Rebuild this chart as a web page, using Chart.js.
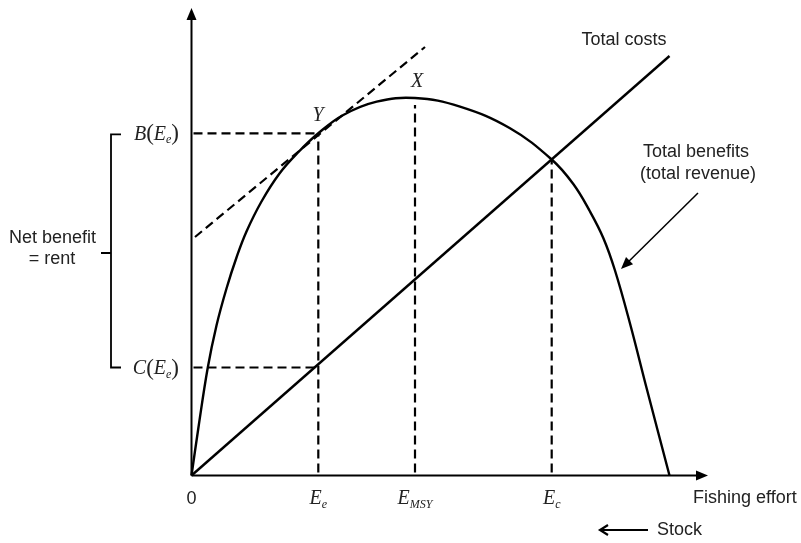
<!DOCTYPE html>
<html>
<head>
<meta charset="utf-8">
<script src="https://cdn.jsdelivr.net/npm/chart.js@4"></script>
<style>
    html, body { margin: 0; padding: 0; background: #fff; }
    canvas { display: block; }
</style>
</head>
<body>
<canvas id="fishChart" width="801" height="543"></canvas>
<script>
// Total benefits (revenue) curve
const effort = [0, 6.8, 16.2, 25, 35, 45, 55, 70, 88, 107, 126.8, 151.8, 185.2, 223.5, 268.5, 318.5, 360.2, 381.8, 398.5, 411.8, 423.5, 438.5, 455.2, 478];
const benefits = [0, 47, 107.5, 150, 187, 218, 244, 274, 302, 323.5, 342.2, 360.5, 373.8, 377.5, 368.8, 347.2, 316, 291.5, 264, 237.5, 205, 152, 87, 0];

// Total costs line
const costEffort = [0, 478];
const costValues = [0, 419.5];

// Tangent at Y (parallel to costs)
const tangentEffort = [3.5, 233.5];
const tangentValues = [238.5, 428.5];

// Marked effort levels on the x axis
const markEffort = [126.8, 223.5, 360.2];
const markTops = [342.2, 370.5, 316];
const markSubs = ['e', 'MSY', 'c'];

// Marked levels on the y axis: B(Ee), C(Ee)
const levelValues = [342.2, 108];
const levelNames = ['B', 'C'];

const xMax = 516.5;
const yMax = 467.5;
const ink = '#000';
const textInk = '#222';

function toPoints(xs, ys) {
    return xs.map((x, i) => ({ x: x, y: ys[i] }));
}

function lineSet(points, dashed) {
    return {
        data: points,
        showLine: true,
        borderColor: ink,
        borderWidth: dashed ? 2.2 : 2.4,
        borderDash: dashed ? [9, 5] : [],
        pointRadius: 0,
        fill: false,
        clip: false
    };
}

function buildDatasets() {
    const sets = [];
    const curve = lineSet(toPoints(effort, benefits), false);
    curve.tension = 0.4;
    sets.push(curve);
    sets.push(lineSet(toPoints(costEffort, costValues), false));
    sets.push(lineSet(toPoints(tangentEffort, tangentValues), true));
    markEffort.forEach((e, i) => {
        sets.push(lineSet([{ x: e, y: 3 }, { x: e, y: markTops[i] }], true));
    });
    levelValues.forEach(v => {
        sets.push(lineSet([{ x: 2, y: v }, { x: markEffort[0], y: v }], true));
    });
    return sets;
}

function arrowHead(ctx, x, y, angle, len, half) {
    ctx.save();
    ctx.translate(x, y);
    ctx.rotate(angle);
    ctx.beginPath();
    ctx.moveTo(0, 0);
    ctx.lineTo(-len, -half);
    ctx.lineTo(-len, half);
    ctx.closePath();
    ctx.fill();
    ctx.restore();
}

// draws pieces like [['E','i'],['e','s']] : i = italic, n = upright, s = subscript
function drawPieces(ctx, pieces, x, y, align) {
    const fonts = {
        i: 'italic 20px "Liberation Serif"',
        n: '23px "Liberation Serif"',
        s: 'italic 12px "Liberation Serif"'
    };
    let total = 0;
    const widths = pieces.map(p => {
        ctx.font = fonts[p[1]];
        const w = ctx.measureText(p[0]).width;
        total += w;
        return w;
    });
    let cx = x;
    if (align === 'center') cx = x - total / 2;
    if (align === 'right') cx = x - total;
    ctx.textAlign = 'left';
    ctx.textBaseline = 'middle';
    pieces.forEach((p, i) => {
        ctx.font = fonts[p[1]];
        ctx.fillText(p[0], cx, p[1] === 's' ? y + 6 : y);
        cx += widths[i];
    });
}

const decorations = {
    id: 'decorations',
    afterDraw(chart) {
        const ctx = chart.ctx;
        const xs = chart.scales.x;
        const ys = chart.scales.y;
        const px = v => xs.getPixelForValue(v);
        const py = v => ys.getPixelForValue(v);
        const area = chart.chartArea;

        ctx.save();
        ctx.strokeStyle = ink;
        ctx.fillStyle = ink;
        ctx.lineWidth = 2;

        // axes with arrows
        ctx.beginPath();
        ctx.moveTo(area.left, area.bottom);
        ctx.lineTo(area.right - 8, area.bottom);
        ctx.moveTo(area.left, area.bottom);
        ctx.lineTo(area.left, area.top + 8);
        ctx.stroke();
        arrowHead(ctx, area.right, area.bottom, 0, 12, 5);
        arrowHead(ctx, area.left, area.top, -Math.PI / 2, 12, 5);

        // brace for net benefit
        const bx = px(-80.5);
        ctx.lineWidth = 1.8;
        ctx.beginPath();
        ctx.moveTo(px(-70.5), py(levelValues[0]) + 1);
        ctx.lineTo(bx, py(levelValues[0]) + 1);
        ctx.lineTo(bx, py(levelValues[1]));
        ctx.lineTo(px(-70.5), py(levelValues[1]));
        ctx.moveTo(bx, py(222.5));
        ctx.lineTo(px(-90.5), py(222.5));
        ctx.stroke();

        // pointer to the benefits curve
        const ax0 = px(506.5), ay0 = py(282.5);
        const ax1 = px(429.5), ay1 = py(206.5);
        const ang = Math.atan2(ay1 - ay0, ax1 - ax0);
        ctx.lineWidth = 1.5;
        ctx.beginPath();
        ctx.moveTo(ax0, ay0);
        ctx.lineTo(ax1 - 9 * Math.cos(ang), ay1 - 9 * Math.sin(ang));
        ctx.stroke();
        arrowHead(ctx, ax1, ay1, ang, 12, 5);

        // stock arrow
        const sy = py(-54.5);
        ctx.lineWidth = 2.2;
        ctx.beginPath();
        ctx.moveTo(px(456.5), sy);
        ctx.lineTo(px(408.5), sy);
        ctx.moveTo(px(408.5) + 8, sy - 5);
        ctx.lineTo(px(408.5), sy);
        ctx.lineTo(px(408.5) + 8, sy + 5);
        ctx.stroke();

        // texts
        ctx.fillStyle = textInk;
        ctx.font = '18px "Liberation Sans"';
        ctx.textBaseline = 'middle';
        ctx.textAlign = 'center';
        ctx.fillText('0', px(0), py(-23.5));
        ctx.fillText('Total costs', px(432.5), py(435.5));
        ctx.fillText('Total benefits', px(504.5), py(323.5));
        ctx.fillText('(total revenue)', px(506.5), py(301.5));
        ctx.fillText('Net benefit', px(-139), py(237.5));
        ctx.fillText('= rent', px(-139.5), py(216.5));
        ctx.textAlign = 'left';
        ctx.fillText('Fishing effort', px(501.5), py(-22.5));
        ctx.fillText('Stock', px(465.5), py(-54.5));

        markEffort.forEach((e, i) => {
            drawPieces(ctx, [['E', 'i'], [markSubs[i], 's']], px(e), py(-23.5), 'center');
        });
        levelValues.forEach((v, i) => {
            drawPieces(ctx, [[levelNames[i], 'i'], ['(', 'n'], ['E', 'i'], ['e', 's'], [')', 'n']],
                px(-12.5), py(v) + 1, 'right');
        });
        drawPieces(ctx, [['Y', 'i']], px(126.5), py(359.5), 'center');
        drawPieces(ctx, [['X', 'i']], px(225.5), py(393.5), 'center');

        ctx.restore();
    }
};

function initializeChart() {
    const ctx = document.getElementById('fishChart').getContext('2d');
    new Chart(ctx, {
        type: 'scatter',
        data: { datasets: buildDatasets() },
        options: {
            responsive: false,
            animation: false,
            layout: {
                padding: { left: 191.5, right: 801 - 191.5 - xMax, top: 8, bottom: 543 - 8 - yMax }
            },
            plugins: {
                legend: { display: false },
                tooltip: { enabled: false }
            },
            scales: {
                x: { type: 'linear', min: 0, max: xMax, display: false },
                y: { type: 'linear', min: 0, max: yMax, display: false }
            }
        },
        plugins: [decorations]
    });
}

document.addEventListener('DOMContentLoaded', initializeChart);
</script>
</body>
</html>
